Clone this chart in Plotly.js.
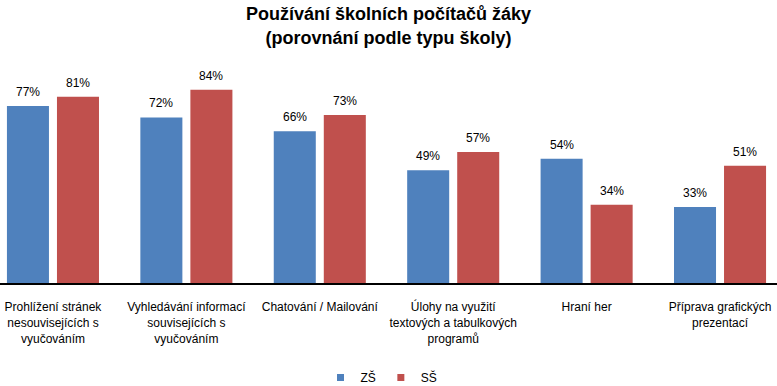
<!DOCTYPE html>
<html>
<head>
<meta charset="utf-8">
<script src="https://cdn.plot.ly/plotly-3.0.1.min.js"></script>
<style>html,body{margin:0;padding:0;background:#fff;}#chart{width:777px;height:386px;}</style>
</head>
<body>
<div id="chart"></div>
<script>
const categories = [
  "Prohlížení stránek<br>nesouvisejících s<br>vyučováním",
  "Vyhledávání informací<br>souvisejících s<br>vyučováním",
  "Chatování / Mailování",
  "Úlohy na využití<br>textových a tabulkových<br>programů",
  "Hraní her",
  "Příprava grafických<br>prezentací"
];
const seriesNames = ["ZŠ", "SŠ"];
const zsValues = [77, 72, 66, 49, 54, 33];
const ssValues = [81, 84, 73, 57, 34, 51];
const colors = ["#4F81BD", "#C0504D"];

const font = "Liberation Sans, Arial, sans-serif";
const allValues = [zsValues, ssValues];

const traces = allValues.map((vals, i) => ({
  type: "bar",
  x: categories,
  y: vals,
  name: seriesNames[i],
  marker: {color: colors[i]},
  showlegend: false,
  hoverinfo: "x+y"
}));
// legend entries with small square markers
allValues.forEach((vals, i) => {
  traces.push({
    type: "scatter", mode: "markers", x: [categories[0]], y: [null],
    name: seriesNames[i],
    marker: {symbol: "square", size: 7, color: colors[i]},
    showlegend: true
  });
});

const annotations = [];
allValues.forEach((vals, i) => {
  vals.forEach((v, j) => {
    annotations.push({
      x: categories[j], y: v, xref: "x", yref: "y",
      text: v + "%", showarrow: false,
      xshift: i === 0 ? -25 : 25, yanchor: "bottom", yshift: 5,
      font: {family: font, size: 12, color: "#000"}
    });
  });
});

const layout = {
  width: 777, height: 386,
  margin: {l: 0, r: 0, t: 53, b: 103},
  paper_bgcolor: "#fff", plot_bgcolor: "#fff",
  title: {
    text: "<b>Používání školních počítačů žáky<br>(porovnání podle typu školy)</b>",
    font: {family: font, size: 18, color: "#000"},
    x: 0.5, xanchor: "center", y: 0.947, yanchor: "middle", yref: "container",
    automargin: false
  },
  barmode: "group", bargap: 0.25, bargroupgap: 0.16,
  xaxis: {
    type: "category", range: [-0.397, 5.427],
    showline: true, linecolor: "#000", linewidth: 2,
    ticks: "outside", ticklen: 12, tickcolor: "rgba(0,0,0,0)",
    showgrid: false, zeroline: false,
    tickfont: {family: font, size: 12, color: "#000"},
    automargin: false
  },
  yaxis: {visible: false, range: [0, 100], fixedrange: true},
  showlegend: true,
  legend: {
    orientation: "h", x: 0.491, xanchor: "center",
    y: 0.022, yanchor: "middle", yref: "container",
    font: {family: font, size: 12, color: "#000"},
    itemwidth: 30, tracegroupgap: 0
  },
  annotations: annotations
};

Plotly.newPlot("chart", traces, layout, {displayModeBar: false, staticPlot: true});
</script>
</body>
</html>
